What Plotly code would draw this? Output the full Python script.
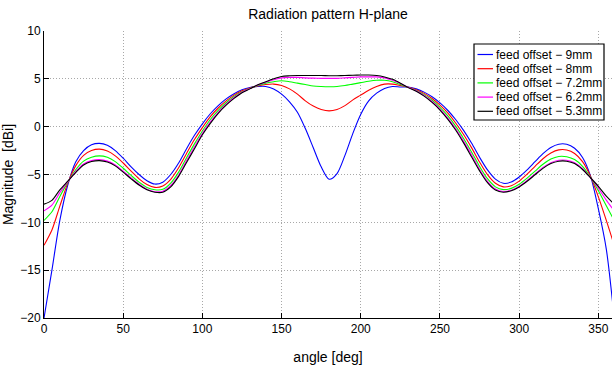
import plotly.graph_objects as go

angle = list(range(0, 365, 5))

names = ["feed offset \u2212 9mm", "feed offset \u2212 8mm", "feed offset \u2212 7.2mm",
         "feed offset \u2212 6.2mm", "feed offset \u2212 5.3mm"]
colors = ["#0000ff", "#ff0000", "#00ff00", "#ff00ff", "#000000"]

mag_9mm = [-20, -15, -9.8, -6.1, -3.7, -2.5, -1.9, -1.75, -1.95, -2.5,
           -3.3, -4.2, -5.0, -5.65, -6.0, -5.8, -5.0, -3.8, -2.3, -0.9,
           0.3, 1.35, 2.2, 2.9, 3.45, 3.85, 4.1, 4.2, 4.2, 3.95,
           3.4, 2.6, 1.5, -0.2, -2.2, -4.2, -5.5, -4.9, -3.0, -0.7,
           1.3, 2.7, 3.5, 4.0, 4.2, 4.15, 4.14, 3.95, 3.61, 3.12,
           2.48, 1.69, 0.72, -0.42, -1.74, -3.2, -4.52, -5.48, -5.92, -5.79,
           -5.26, -4.52, -3.66, -2.82, -2.17, -1.83, -1.84, -2.26, -3.22, -5.14,
           -8.6, -12.8, -20]
mag_8mm = [-12.4, -10.8, -8.3, -5.9, -4.1, -3.0, -2.5, -2.35, -2.55, -3.05,
           -3.8, -4.65, -5.45, -6.05, -6.35, -6.2, -5.5, -4.3, -2.8, -1.35,
           -0.1, 1.05, 1.95, 2.7, 3.3, 3.75, 4.05, 4.25, 4.4, 4.45,
           4.3, 3.95, 3.4, 2.7, 2.15, 1.8, 1.65, 1.8, 2.2, 2.8,
           3.3, 3.8, 4.2, 4.45, 4.45, 4.3, 4.12, 3.87, 3.48, 2.94,
           2.25, 1.41, 0.36, -0.85, -2.22, -3.7, -5.02, -5.92, -6.29, -6.17,
           -5.69, -4.97, -4.14, -3.35, -2.75, -2.43, -2.44, -2.8, -3.66, -5.18,
           -7.34, -9.8, -12.4]
mag_72mm = [-9.8, -8.9, -7.3, -5.8, -4.5, -3.6, -3.2, -3.05, -3.2, -3.65,
            -4.35, -5.1, -5.8, -6.35, -6.6, -6.55, -5.9, -4.75, -3.25, -1.8,
            -0.45, 0.75, 1.7, 2.5, 3.15, 3.65, 4.0, 4.3, 4.55, 4.7,
            4.8, 4.7, 4.55, 4.4, 4.25, 4.2, 4.18, 4.2, 4.3, 4.45,
            4.6, 4.75, 4.85, 4.85, 4.7, 4.4, 4.1, 3.79, 3.35, 2.76,
            2.02, 1.13, 0.03, -1.26, -2.67, -4.15, -5.44, -6.29, -6.58, -6.45,
            -6.02, -5.38, -4.65, -3.93, -3.38, -3.11, -3.14, -3.44, -4.14, -5.28,
            -6.7, -8.26, -9.8]
mag_62mm = [-8.8, -8.2, -6.9, -5.75, -4.7, -3.9, -3.55, -3.45, -3.6, -4.0,
            -4.65, -5.35, -6.0, -6.55, -6.8, -6.75, -6.15, -5.05, -3.55, -2.1,
            -0.7, 0.5, 1.5, 2.35, 3.05, 3.6, 3.98, 4.35, 4.65, 4.9,
            5.1, 5.15, 5.15, 5.1, 5.07, 5.05, 5.05, 5.05, 5.1, 5.15,
            5.2, 5.2, 5.2, 5.1, 4.85, 4.5, 4.1, 3.75, 3.27, 2.63,
            1.84, 0.9, -0.22, -1.54, -2.97, -4.45, -5.71, -6.51, -6.78, -6.65,
            -6.22, -5.61, -4.93, -4.26, -3.76, -3.51, -3.51, -3.76, -4.38, -5.33,
            -6.44, -7.68, -8.8]
mag_53mm = [-8.1, -7.7, -6.6, -5.7, -4.8, -4.0, -3.65, -3.55, -3.7, -4.1,
            -4.75, -5.45, -6.1, -6.6, -6.85, -6.85, -6.3, -5.2, -3.75, -2.3,
            -0.85, 0.35, 1.4, 2.25, 2.95, 3.55, 3.95, 4.38, 4.7, 5.0,
            5.25, 5.32, 5.35, 5.35, 5.35, 5.35, 5.33, 5.33, 5.35, 5.38,
            5.4, 5.4, 5.35, 5.2, 4.95, 4.55, 4.08, 3.71, 3.19, 2.53,
            1.74, 0.77, -0.37, -1.72, -3.17, -4.62, -5.86, -6.63, -6.85, -6.7,
            -6.3, -5.71, -5.03, -4.36, -3.86, -3.61, -3.61, -3.86, -4.48, -5.34,
            -6.24, -7.26, -8.1]

series = [mag_9mm, mag_8mm, mag_72mm, mag_62mm, mag_53mm]

x_ticks = [0, 50, 100, 150, 200, 250, 300, 350]
y_ticks = [-20, -15, -10, -5, 0, 5, 10]

W, H = 612, 365
ML, MR, MT, MB = 44, 0, 31, 47
PW, PH = W - ML - MR, H - MT - MB


def px(x):
    return (x - ML) / PW


def py(y):
    return (H - MB - y) / PH


fig = go.Figure()
for name, col, vals in zip(names, colors, series):
    fig.add_trace(go.Scatter(x=angle, y=vals, mode="lines", name=name, showlegend=False,
                             line=dict(color=col, width=1.1, shape="spline", smoothing=0.8)))

# legend box drawn in paper space
shapes = [dict(type="rect", xref="paper", yref="paper",
               x0=px(474), x1=px(604), y0=py(120), y1=py(44),
               line=dict(color="black", width=1.2), fillcolor="white", layer="above")]
annotations = []
rows = [54.5, 68.7, 82.9, 97.1, 111.3]
for name, col, ry in zip(names, colors, rows):
    shapes.append(dict(type="line", xref="paper", yref="paper",
                       x0=px(477.5), x1=px(493), y0=py(ry), y1=py(ry),
                       line=dict(color=col, width=1.2), layer="above"))
    annotations.append(dict(text=name, xref="paper", yref="paper", x=px(494), y=py(ry),
                            xanchor="left", yanchor="middle", showarrow=False,
                            font=dict(size=12, color="black")))

font = "Liberation Sans, Arial, sans-serif"
fig.update_layout(
    width=W, height=H,
    margin=dict(l=ML, r=MR, t=MT, b=MB),
    paper_bgcolor="white", plot_bgcolor="white",
    font=dict(family=font, size=12, color="black"),
    title=dict(text="Radiation pattern H-plane", x=0.5, xref="paper", xanchor="center",
               y=1 - 14 / H, yref="container", yanchor="middle",
               font=dict(size=14, color="black")),
    shapes=shapes, annotations=annotations,
)
grid_dash = "1px,2px"
fig.update_xaxes(range=[0, 358.6], tickvals=x_ticks, ticks="inside", ticklen=5,
                 tickcolor="black", showline=True, linecolor="black", linewidth=1,
                 showgrid=True, gridcolor="#a8a8a8", griddash=grid_dash, gridwidth=1,
                 zeroline=False, mirror=False, automargin=False,
                 title=dict(text="angle [deg]", font=dict(size=14), standoff=19),
                 tickfont=dict(size=12))
fig.update_yaxes(range=[-20, 10], tickvals=y_ticks, ticks="inside", ticklen=5,
                 tickcolor="black", showline=True, linecolor="black", linewidth=1,
                 showgrid=True, gridcolor="#a8a8a8", griddash=grid_dash, gridwidth=1,
                 zeroline=False, mirror=False, automargin=False,
                 title=dict(text="Magnitude  [dBi]", font=dict(size=14), standoff=4),
                 tickfont=dict(size=12))

# remove the default page margin so the 612x365 figure fills the window exactly
page_fix = ("document.body.style.margin='0';document.body.style.overflow='hidden';"
            "document.documentElement.style.overflow='hidden';")
fig.write_html("out.html", post_script=page_fix, config={"displayModeBar": False})
